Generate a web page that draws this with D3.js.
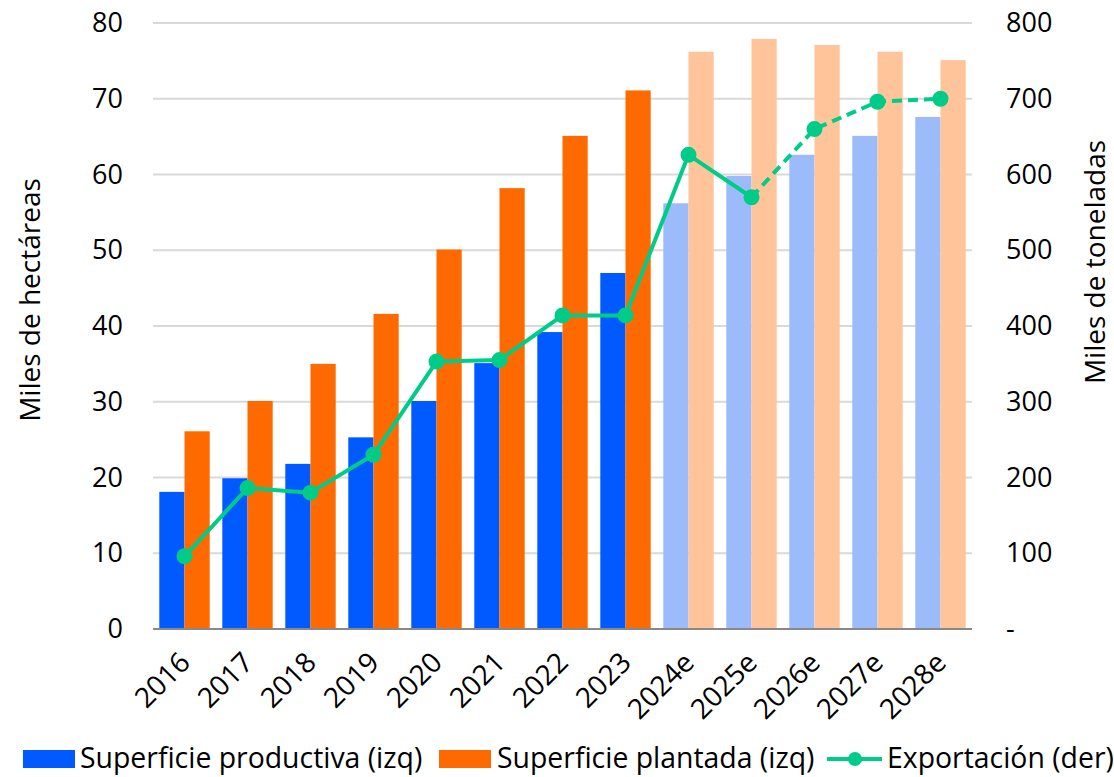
<!DOCTYPE html>
<html>
<head>
<meta charset="utf-8">
<script src="https://cdn.jsdelivr.net/npm/d3@7"></script>
<style>
  html, body { margin: 0; padding: 0; background: #fff; }
  svg { display: block; font-family: "Open Sans", "Noto Sans", sans-serif; }
</style>
</head>
<body>
<svg id="chart" width="1114" height="777"></svg>
<script>
const categories = ["2016","2017","2018","2019","2020","2021","2022","2023","2024e","2025e","2026e","2027e","2028e"];
const productiva = [18.1, 19.9, 21.8, 25.3, 30.1, 35.1, 39.2, 47.0, 56.2, 59.8, 62.6, 65.1, 67.6];
const plantada   = [26.1, 30.1, 35.0, 41.6, 50.1, 58.2, 65.1, 71.1, 76.2, 77.9, 77.1, 76.2, 75.1];
const exportacion = [96, 186, 180, 230, 353, 355, 414, 414, 626, 570, 660, 696, 700];
const leftTicks = [0, 10, 20, 30, 40, 50, 60, 70, 80];
const rightTicks = [0, 100, 200, 300, 400, 500, 600, 700, 800];
const rightTickLabels = ["-", "100", "200", "300", "400", "500", "600", "700", "800"];
const legendLabels = ["Superficie productiva (izq)", "Superficie plantada (izq)", "Exportación (der)"];
const leftTitle = "Miles de hectáreas";
const rightTitle = "Miles de toneladas";
const lastActualIndex = 9; // solid line through 2025e, dashed afterwards

const colors = {
  prod: "#005AFF", prodE: "#9BBBFB",
  plant: "#FF6A00", plantE: "#FFC499",
  line: "#00CC88", grid: "#D9D9D9", axis: "#898989", text: "#000"
};

const svg = d3.select("#chart");
const plot = { left: 153, right: 972, top: 23, bottom: 629 };

const x = d3.scaleBand().domain(categories).range([plot.left, plot.right]).paddingInner(0.2).paddingOuter(0.1);
const yL = d3.scaleLinear().domain([0, 80]).range([plot.bottom, plot.top]);
const yR = d3.scaleLinear().domain([0, 800]).range([plot.bottom, plot.top]);
const isEst = c => c.endsWith("e");

// gridlines
svg.append("g").selectAll("line").data(leftTicks.filter(d => d > 0)).join("line")
  .attr("x1", plot.left).attr("x2", plot.right)
  .attr("y1", d => yL(d)).attr("y2", d => yL(d))
  .attr("stroke", colors.grid).attr("stroke-width", 2);

// bars
const bw = x.bandwidth() / 2;
svg.append("g").selectAll("rect").data(categories).join("rect")
  .attr("x", c => x(c)).attr("width", bw)
  .attr("y", (c, i) => yL(productiva[i])).attr("height", (c, i) => yL(0) - yL(productiva[i]))
  .attr("fill", c => isEst(c) ? colors.prodE : colors.prod);
svg.append("g").selectAll("rect").data(categories).join("rect")
  .attr("x", c => x(c) + bw).attr("width", bw)
  .attr("y", (c, i) => yL(plantada[i])).attr("height", (c, i) => yL(0) - yL(plantada[i]))
  .attr("fill", c => isEst(c) ? colors.plantE : colors.plant);

// baseline
svg.append("line").attr("x1", plot.left).attr("x2", plot.right)
  .attr("y1", plot.bottom).attr("y2", plot.bottom)
  .attr("stroke", colors.axis).attr("stroke-width", 2);

// line
const pts = categories.map((c, i) => [x(c) + x.bandwidth() / 2, yR(exportacion[i])]);
const lineGen = d3.line();
svg.append("path").attr("d", lineGen(pts.slice(0, lastActualIndex + 1)))
  .attr("fill", "none").attr("stroke", colors.line).attr("stroke-width", 4).attr("stroke-linejoin", "round");
svg.append("path").attr("d", lineGen(pts.slice(lastActualIndex)))
  .attr("fill", "none").attr("stroke", colors.line).attr("stroke-width", 4).attr("stroke-dasharray", "10,6");
svg.append("g").selectAll("circle").data(pts).join("circle")
  .attr("cx", d => d[0]).attr("cy", d => d[1]).attr("r", 8).attr("fill", colors.line);

// left axis
const leftAxis = d3.axisLeft(yL).tickValues(leftTicks).tickSize(0).tickPadding(0);
const gl = svg.append("g").attr("transform", "translate(123,0)").call(leftAxis);
gl.select(".domain").remove();
gl.selectAll("text").attr("font-size", 27).attr("fill", colors.text).attr("font-family", "Open Sans");

// right axis
const rightAxis = d3.axisRight(yR).tickValues(rightTicks).tickSize(0).tickPadding(0)
  .tickFormat((d, i) => rightTickLabels[i]);
const gr = svg.append("g").attr("transform", "translate(1006,0)").call(rightAxis);
gr.select(".domain").remove();
gr.selectAll("text").attr("font-size", 27).attr("fill", colors.text).attr("font-family", "Open Sans");

// x labels
const xAxis = d3.axisBottom(x).tickSize(0).tickPadding(0);
const gx = svg.append("g").attr("transform", `translate(0,${plot.bottom})`).call(xAxis);
gx.select(".domain").remove();
gx.selectAll("text")
  .attr("font-size", 28).attr("fill", colors.text).attr("font-family", "Open Sans")
  .attr("text-anchor", "end").attr("dy", null).attr("y", null)
  .attr("transform", "translate(2,30) rotate(-45)")
  .attr("dominant-baseline", "middle");

// axis titles
svg.append("text").attr("transform", "translate(33,300) rotate(-90)")
  .attr("text-anchor", "middle").attr("dominant-baseline", "middle")
  .attr("font-size", 28).text(leftTitle);
svg.append("text").attr("transform", "translate(1098,262) rotate(-90)")
  .attr("text-anchor", "middle").attr("dominant-baseline", "middle")
  .attr("font-size", 28).text(rightTitle);

// legend
const lg = svg.append("g").attr("font-size", 28.4);
lg.append("rect").attr("x", 23).attr("y", 750).attr("width", 52).attr("height", 18).attr("fill", colors.prod);
lg.append("text").attr("x", 80).attr("y", 768).text(legendLabels[0]);
lg.append("rect").attr("x", 439).attr("y", 750).attr("width", 52).attr("height", 18).attr("fill", colors.plant);
lg.append("text").attr("x", 497).attr("y", 768).text(legendLabels[1]);
lg.append("line").attr("x1", 827).attr("x2", 882).attr("y1", 759).attr("y2", 759)
  .attr("stroke", colors.line).attr("stroke-width", 4);
lg.append("circle").attr("cx", 855).attr("cy", 759).attr("r", 7).attr("fill", colors.line);
lg.append("text").attr("x", 887).attr("y", 768).text(legendLabels[2]);
</script>
</body>
</html>
